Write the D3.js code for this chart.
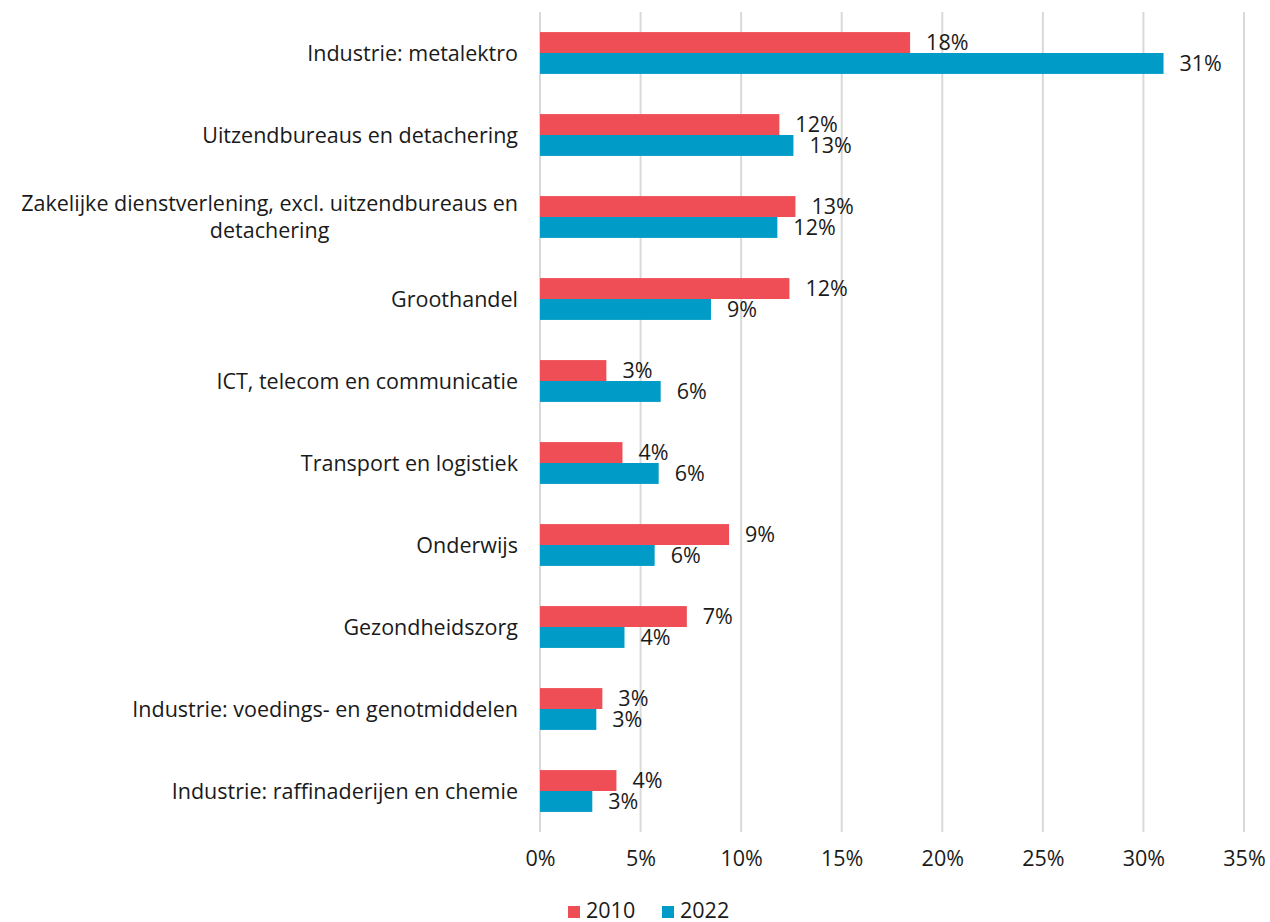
<!DOCTYPE html>
<html><head><meta charset="utf-8">
<script src="https://cdn.jsdelivr.net/npm/d3@7"></script>
<style>body{margin:0;background:#fff}svg text{font-family:"Open Sans",Roboto,sans-serif;fill:#1a1a1a}</style>
</head><body><svg id="c" width="1270" height="922"></svg>
<script>
const categories = [
  ["Industrie: metalektro"],
  ["Uitzendbureaus en detachering"],
  ["Zakelijke dienstverlening, excl. uitzendbureaus en", "detachering"],
  ["Groothandel"],
  ["ICT, telecom en communicatie"],
  ["Transport en logistiek"],
  ["Onderwijs"],
  ["Gezondheidszorg"],
  ["Industrie: voedings- en genotmiddelen"],
  ["Industrie: raffinaderijen en chemie"]
];
const values2010 = [18.4, 11.9, 12.7, 12.4, 3.3, 4.1, 9.4, 7.3, 3.1, 3.8];
const values2022 = [31.0, 12.6, 11.8, 8.5, 6.0, 5.9, 5.7, 4.2, 2.8, 2.6];
const labels2010 = ["18%","12%","13%","12%","3%","4%","9%","7%","3%","4%"];
const labels2022 = ["31%","13%","12%","9%","6%","6%","6%","4%","3%","3%"];
const seriesNames = ["2010","2022"];
const colors = ["#F04E56","#009BC6"];
const xTicks = [0,5,10,15,20,25,30,35];

(function(){
const FS = 21.5;
const svg = d3.select("#c");
const mLeft = 540, mRight = 1244, mTop = 12, mBottom = 832;
const x = d3.scaleLinear().domain([0,35]).range([mLeft,mRight]);
const y = d3.scaleBand().domain(d3.range(categories.length)).range([mTop,mBottom]).paddingInner(0.49).paddingOuter(0.245);
const ySub = d3.scaleBand().domain([0,1]).range([0,y.bandwidth()]);

svg.append("g").selectAll("line").data(xTicks).join("line")
  .attr("x1",d=>x(d)).attr("x2",d=>x(d)).attr("y1",mTop).attr("y2",mBottom)
  .attr("stroke","#d9d9d9").attr("stroke-width",2);

const xAxis = d3.axisBottom(x).tickValues(xTicks).tickFormat(d=>d+"%").tickSize(0).tickPadding(0);
const gx = svg.append("g").attr("transform",`translate(0,${mBottom+19})`).call(xAxis);
gx.select(".domain").remove();
gx.selectAll("text").attr("font-size",FS).attr("dy","0.71em").style("font-family","'Open Sans',Roboto,sans-serif").attr("fill","#1a1a1a");

const series = [values2010, values2022];
const labs = [labels2010, labels2022];
series.forEach((vals,s)=>{
  const g = svg.append("g");
  g.selectAll("rect").data(vals).join("rect")
    .attr("x",x(0)).attr("y",(d,i)=>y(i)+ySub(s))
    .attr("width",d=>x(d)-x(0)).attr("height",ySub.bandwidth())
    .attr("fill",colors[s]);
  g.selectAll("text").data(vals).join("text")
    .attr("x",d=>x(d)+16).attr("y",(d,i)=>y(i)+ySub(s)+ySub.bandwidth()/2)
    .attr("dy","0.35em").attr("font-size",FS).text((d,i)=>labs[s][i]);
});

const gy = svg.append("g");
categories.forEach((lines,i)=>{
  const cy = y(i)+y.bandwidth()/2;
  if(lines.length===1){
    gy.append("text").attr("x",518).attr("y",cy).attr("dy","0.35em").attr("text-anchor","end").attr("font-size",FS).text(lines[0]);
  } else {
    const t = gy.append("text").attr("font-size",FS).attr("text-anchor","middle");
    lines.forEach((l,k)=>{
      t.append("tspan").attr("y",cy+(k-(lines.length-1)/2)*27).attr("dy","0.35em").text(l);
    });
    const cx = 518 - t.select("tspan").node().getComputedTextLength()/2;
    t.selectAll("tspan").attr("x",cx);
  }
});

const lg = svg.append("g");
const lx = [568, 662];
seriesNames.forEach((n,i)=>{
  lg.append("rect").attr("x",lx[i]).attr("y",906).attr("width",12).attr("height",12).attr("fill",colors[i]);
  lg.append("text").attr("x",lx[i]+18).attr("y",910).attr("dy","0.35em").attr("font-size",FS).text(n);
});
})();
</script></body></html>
